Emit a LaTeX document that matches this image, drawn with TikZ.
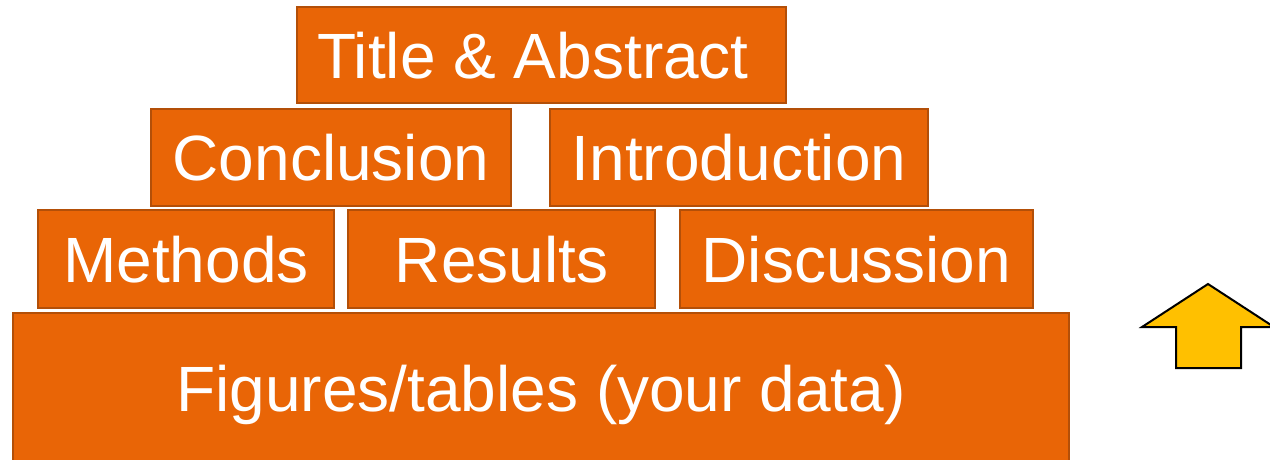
\documentclass[tikz,border=0pt]{standalone}
\usepackage{fontspec}
\setmainfont{Liberation Sans}
\definecolor{boxfill}{HTML}{E96506}
\definecolor{boxline}{HTML}{B34F08}
\definecolor{arrowfill}{HTML}{FFC000}
\begin{document}
\begin{tikzpicture}[x=1pt,y=-1pt,
  blk/.style={draw=boxline, line width=2pt, fill=boxfill, text=white, inner sep=0pt,
    font=\fontsize{64}{70}\selectfont, text height=46pt, text depth=0pt, anchor=center}]
\useasboundingbox (0,0) rectangle (1270,459);
\clip (0,0) rectangle (1270,459);
\fill[white] (0,0) rectangle (1270,459);
\node[blk, minimum width=489pt, minimum height=96pt] (title) at (541.5,55) {Title \& Abstract\hspace*{17pt}};
\node[blk, minimum width=360pt, minimum height=97pt] (concl) at (331,157.5) {Conclusion};
\node[blk, minimum width=378pt, minimum height=97pt] (intro) at (739,157.5) {Introduction};
\node[blk, minimum width=296pt, minimum height=98pt] (meth) at (186,259) {Methods};
\node[blk, minimum width=307pt, minimum height=98pt] (res) at (501.5,259) {Results};
\node[blk, minimum width=353pt, minimum height=98pt] (disc) at (856.5,259) {Discussion};
\node[blk, minimum width=1056pt, minimum height=151pt] (fig) at (541,388.5) {Figures/tables (your data)};
\draw[line width=2pt, fill=arrowfill, line join=miter]
  (1208,284) -- (1274,327) -- (1241,327) -- (1241,368) -- (1176,368) -- (1176,327) -- (1142,327) -- cycle;
\end{tikzpicture}
\end{document}
